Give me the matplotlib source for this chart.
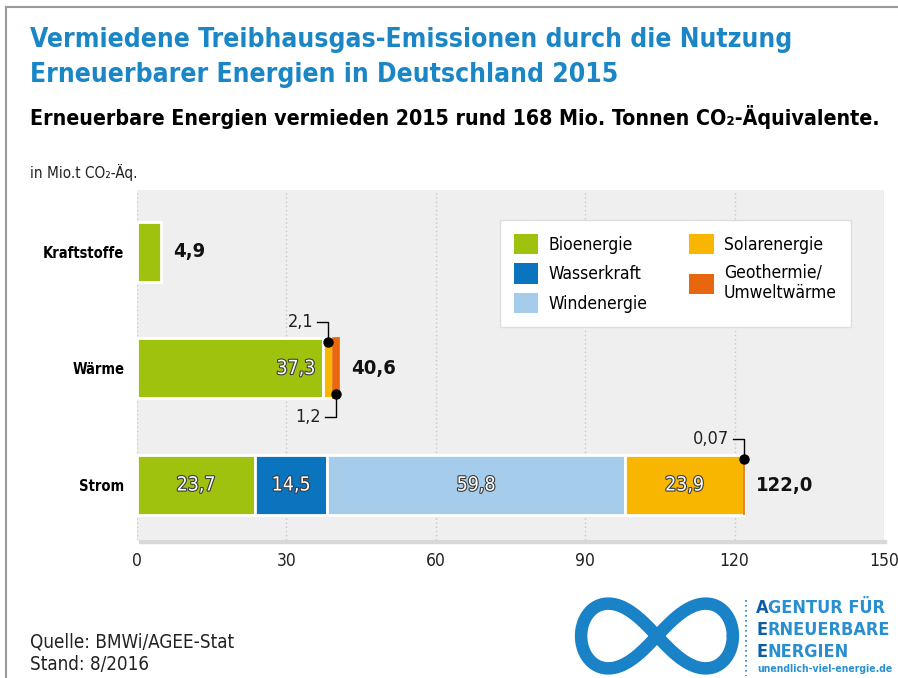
import numpy as np
import matplotlib
matplotlib.use("Agg")
import matplotlib.pyplot as plt
import matplotlib.patheffects as pe
from matplotlib.patches import Patch, Rectangle
from matplotlib.lines import Line2D

plt.rcParams['font.family'] = ['DejaVu Sans']
plt.rcParams['font.stretch'] = 'condensed'

categories = ["Kraftstoffe", "Wärme", "Strom"]
series_names = ["Bioenergie", "Wasserkraft", "Windenergie", "Solarenergie", "Geothermie/\nUmweltwärme"]
bio = [4.9, 37.3, 23.7]
wasser = [0.0, 0.0, 14.5]
wind = [0.0, 0.0, 59.8]
solar = [0.0, 2.1, 23.9]
geo = [0.0, 1.2, 0.07]
totals = ["4,9", "40,6", "122,0"]
inside_labels = [["", "37,3", "23,7"], ["", "", "14,5"], ["", "", "59,8"], ["", "", "23,9"]]
xticks = [0, 30, 60, 90, 120, 150]

colors = ["#9fc20f", "#0b74bf", "#a5cdeb", "#f8b600", "#e8660e"]
blue_title = "#1b86c6"

W, H = 898, 678
fig = plt.figure(figsize=(W / 100, H / 100), dpi=100)
fig.patch.set_facecolor("white")

def fx(px):
    return px / W

def fy(py):
    return 1 - py / H

# frame
fig.add_artist(Line2D([fx(6), fx(6)], [fy(7), 0], color="#9a9a9a", lw=1.5))
fig.add_artist(Line2D([fx(6), 1], [fy(7), fy(7)], color="#9a9a9a", lw=1.5))

# axes: x 0 -> px 137, 150 -> px 884 ; y top 190, bottom 540
left, right, top, bottom = 137, 884, 190, 540
ax = fig.add_axes([fx(left), fy(bottom), fx(right - left), fy(top) - fy(bottom)])
ax.set_facecolor("#efefef")
ax.set_xlim(0, 150)
ax.set_ylim(2.472, -0.532)
for s in ax.spines.values():
    s.set_visible(False)

fig.add_artist(Rectangle((fx(left + 2), fy(bottom + 3)), fx(right - left), fy(bottom) - fy(bottom + 3),
                         color="#d8d8d8", zorder=0))

ax.set_xticks(xticks)
ax.set_xticklabels([str(v) for v in xticks], fontsize=12.5, color="#222222")
ax.tick_params(axis="x", length=0, pad=9)
ax.grid(axis="x", linestyle=(0, (1, 2)), color="#c8c8c8", lw=1)
ax.set_axisbelow(True)

y = np.arange(len(categories))
ax.set_yticks(y)
ax.set_yticklabels(categories, fontsize=10.5, fontweight="bold")
ax.tick_params(axis="y", length=0, pad=9)

bar_h = 0.515
series = [bio, wasser, wind, solar, geo]
leftpos = np.zeros(len(categories))
seg_bounds = []
for i, vals in enumerate(series):
    vals = np.array(vals)
    if i == 4:
        ec = [colors[i] if v > 0 else "none" for v in vals]
        ax.barh(y, vals, height=bar_h, left=leftpos, color=colors[i], edgecolor=ec, lw=1.2, zorder=3)
    else:
        ec = ["white" if v > 0 else "none" for v in vals]
        ax.barh(y, vals, height=bar_h, left=leftpos, color=colors[i], edgecolor=ec, lw=2, zorder=3)
    seg_bounds.append((leftpos.copy(), vals))
    leftpos = leftpos + vals

stroke = [pe.withStroke(linewidth=1.6, foreground="#3a3a3a")]
for i in range(4):
    lp, vals = seg_bounds[i]
    for j in range(len(categories)):
        lab = inside_labels[i][j]
        if not lab:
            continue
        if i == 0 and j == 1:
            ax.text(lp[j] + vals[j] - 1.5, y[j], lab, ha="right", va="center", fontsize=14,
                    color="white", path_effects=stroke, zorder=5)
        else:
            ax.text(lp[j] + vals[j] / 2, y[j], lab, ha="center", va="center", fontsize=14,
                    color="white", path_effects=stroke, zorder=5)

for j in range(len(categories)):
    ax.annotate(totals[j], (leftpos[j], y[j]), xytext=(12, 0), textcoords="offset pixels",
                ha="left", va="center", fontsize=14.5, fontweight="bold", color="#111111", zorder=5)

def callout(xv, yc, above, label):
    yd = yc - bar_h / 2 + 0.03 if above else yc + bar_h / 2 - 0.04
    ax.plot([xv], [yd], "o", color="black", ms=6.5, zorder=6, clip_on=False)
    ylab = yc - bar_h / 2 - 0.14 if above else yc + bar_h / 2 + 0.16
    ax.plot([xv, xv, xv - 2.2], [yd, ylab, ylab], color="black", lw=1, zorder=6, clip_on=False)
    ax.text(xv - 3.0, ylab, label, ha="right", va="center", fontsize=13, color="#222222", zorder=6)

lp_s, v_s = seg_bounds[3]
lp_g, v_g = seg_bounds[4]
callout(lp_s[1] + v_s[1] / 2, y[1], True, "2,1")
callout(lp_g[1] + v_g[1] / 2, y[1], False, "1,2")
callout(lp_g[2] + v_g[2] / 2, y[2], True, "0,07")

handles = [Patch(facecolor=c, edgecolor="none") for c in colors]
leg = ax.legend(handles, series_names, ncol=2,
                loc="upper left", bbox_to_anchor=((500 - left) / (right - left), 1 - (220 - top) / (bottom - top)),
                frameon=True, fancybox=False, shadow=False, fontsize=12.5, framealpha=1,
                handlelength=1.4, handleheight=1.4, handletextpad=0.6, columnspacing=2.4,
                labelspacing=0.55, borderpad=0.8, borderaxespad=0)
leg.get_frame().set_facecolor("white")
leg.get_frame().set_edgecolor("#dddddd")
leg.get_frame().set_linewidth(1)
leg.set_zorder(7)

fig.text(fx(30), fy(40), "Vermiedene Treibhausgas-Emissionen durch die Nutzung", fontsize=19,
         fontweight="bold", color=blue_title, va="center", ha="left")
fig.text(fx(30), fy(75), "Erneuerbarer Energien in Deutschland 2015", fontsize=19,
         fontweight="bold", color=blue_title, va="center", ha="left")
fig.text(fx(30), fy(117), "Erneuerbare Energien vermieden 2015 rund 168 Mio. Tonnen CO\u2082-Äquivalente.",
         fontsize=15.3, fontweight="bold", color="black", va="center", ha="left")
fig.text(fx(30), fy(172), "in Mio.t CO\u2082-Äq.", fontsize=11, color="#222222", va="center", ha="left")

fig.text(fx(30), fy(642), "Quelle: BMWi/AGEE-Stat", fontsize=13.5, color="#222222", va="center")
fig.text(fx(30), fy(664), "Stand: 8/2016", fontsize=13.5, color="#222222", va="center")

# logo
lax = fig.add_axes([fx(572), fy(676), fx(170), fy(596) - fy(676)])
lax.set_axis_off()
t = np.linspace(0, 2 * np.pi, 400)
lx = np.cos(t) / (1 + 0.55 * np.sin(t) ** 2)
ly = 1.25 * np.sin(t) * np.cos(t) / (1 + 0.55 * np.sin(t) ** 2)
lax.plot(lx, ly, color="#1a82c6", lw=9, solid_capstyle="round")
lax.set_xlim(-1.12, 1.12)
lax.set_ylim(-0.62, 0.62)
fig.add_artist(Line2D([fx(746), fx(746)], [fy(600), fy(676)], color="#1a82c6", lw=1.2, linestyle=(0, (1, 2))))
renderer = fig.canvas.get_renderer()
logo_lines = ["AGENTUR FÜR", "ERNEUERBARE", "ENERGIEN"]
for k, ln in enumerate(logo_lines):
    t1 = fig.text(fx(756), fy(608 + 22 * k), ln[0], fontsize=13, fontweight="bold", color="#0d5ea6", va="center")
    bb = t1.get_window_extent(renderer)
    fig.text(bb.x1 / W, fy(608 + 22 * k), ln[1:], fontsize=13, fontweight="bold", color="#2a8fd0", va="center")
fig.text(fx(757), fy(669), "unendlich-viel-energie.de", fontsize=7.5, fontweight="bold", color="#2a8fd0", va="center")

fig.savefig("out.png", dpi=100)
